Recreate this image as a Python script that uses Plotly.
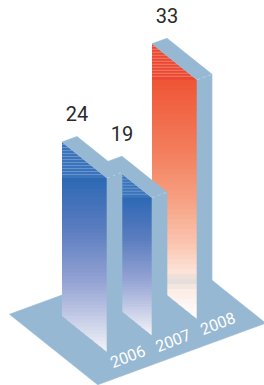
import plotly.graph_objects as go

# ---- data ----
years = ["2006", "2007", "2008"]
values = [24, 19, 33]
palette_names = ["blue", "blue", "red"]

# ---- style ----
W, H = 264, 385
X0, Y0 = 62, 316          # screen position of first bar's back-left-bottom corner
DU = (15.0, -5.5)          # bar width direction
DV = (45.0, 36.0)          # bar depth direction
DH = 7.25                  # pixels per unit of value
STEP = 3                   # bar spacing in width units
SLAB = "#96B8D3"
FLOOR = "#97B8D3"
GRADS = {
    "blue": [(0.0, "#2D68B4"), (0.3, "#5C7DC0"), (0.6, "#95A4D4"),
             (0.78, "#BFC7E4"), (0.88, "#D7DCEC"), (1.0, "#F3F4F8")],
    "red": [(0.0, "#EF5535"), (0.3, "#F37E5D"), (0.5, "#F6A081"),
            (0.7, "#FAC8B4"), (0.8, "#FDE3D8"), (0.84, "#E4DCDA"),
            (0.88, "#FCECE6"), (1.0, "#FFFFFF")],
}
STRIPES = {"blue": ("#3C74BC", "#6794CC"), "red": ("#EB4733", "#F2806C")}
FONT = "Roboto, sans-serif"


def proj(u, v, h):
    return (X0 + u * DU[0] + v * DV[0], Y0 + u * DU[1] + v * DV[1] - h * DH)


def hex2rgb(c):
    c = c.lstrip("#")
    return tuple(int(c[i:i + 2], 16) for i in (0, 2, 4))


def grad_color(stops, t):
    t = min(max(t, 0.0), 1.0)
    for (t0, c0), (t1, c1) in zip(stops[:-1], stops[1:]):
        if t0 <= t <= t1:
            a = (t - t0) / (t1 - t0) if t1 > t0 else 0
            r0, r1 = hex2rgb(c0), hex2rgb(c1)
            return "rgb(%d,%d,%d)" % tuple(round(r0[i] + a * (r1[i] - r0[i])) for i in range(3))
    return stops[-1][1]


def clip(poly, ymin, ymax):
    def half(pts, keep, yv):
        out = []
        for i in range(len(pts)):
            cur, prev = pts[i], pts[i - 1]
            ci, pi = keep(cur), keep(prev)
            if ci != pi:
                t = (yv - prev[1]) / (cur[1] - prev[1])
                out.append((prev[0] + t * (cur[0] - prev[0]), yv))
            if ci:
                out.append(cur)
        return out
    pts = half(poly, lambda p: p[1] >= ymin, ymin)
    if pts:
        pts = half(pts, lambda p: p[1] <= ymax, ymax)
    return pts


fig = go.Figure()


def poly_trace(pts, color, line=None):
    if len(pts) < 3:
        return
    xs = [p[0] for p in pts] + [pts[0][0]]
    ys = [p[1] for p in pts] + [pts[0][1]]
    fig.add_trace(go.Scatter(
        x=xs, y=ys, mode="lines", fill="toself", fillcolor=color,
        line=dict(width=0.6 if line is None else line, color=color),
        hoverinfo="skip", showlegend=False))


# floor
n = len(values)
u_min, u_max = -2.3, STEP * (n - 1) + 2.9
v_min, v_max = -0.4, 1.56
poly_trace([proj(u_min, v_min, 0), proj(u_max, v_min, 0),
            proj(u_max, v_max, 0), proj(u_min, v_max, 0)], FLOOR)

# bars, back to front
for i in reversed(range(n)):
    u0 = i * STEP
    val = values[i]
    pal = palette_names[i]
    face = [proj(u0, 0, 0), proj(u0, 0, val), proj(u0, 1, val), proj(u0, 1, 0)]
    y_top = proj(u0, 0, val)[1]
    y_line = proj(u0, 1, val)[1]
    y_bot = proj(u0, 1, 0)[1]
    # striped triangle at top of side face
    c1, c2 = STRIPES[pal]
    poly_trace(clip(face, y_top - 1, y_line + 1), c1, line=0)
    y = y_top + 2
    while y < y_line - 1:
        poly_trace(clip(face, y, y + 1.1), c2, line=0)
        y += 3
    # gradient part
    nb = 48
    for b in range(nb):
        ya = y_line + (y_bot - y_line) * b / nb
        yb = y_line + (y_bot - y_line) * (b + 1) / nb
        poly_trace(clip(face, ya, yb + 1.2), grad_color(GRADS[pal], (b + 0.5) / nb), line=0)
    # top face
    poly_trace([proj(u0, 0, val), proj(u0 + 1, 0, val),
                proj(u0 + 1, 1, val), proj(u0, 1, val)], SLAB)
    # front face
    poly_trace([proj(u0, 1, 0), proj(u0 + 1, 1, 0),
                proj(u0 + 1, 1, val), proj(u0, 1, val)], SLAB)
    # light edge between top and front
    a, b2 = proj(u0, 1, val), proj(u0 + 1, 1, val)
    fig.add_trace(go.Scatter(x=[a[0], b2[0]], y=[a[1], b2[1]], mode="lines",
                             line=dict(color="#B8CEE1", width=1, dash="dot"),
                             hoverinfo="skip", showlegend=False))

# value labels
lx, ly = zip(*[proj(i * STEP + 1, 0, values[i] + 2.8) for i in range(n)])
fig.add_trace(go.Scatter(x=lx, y=ly, mode="text", text=[str(v) for v in values],
                         textfont=dict(family=FONT, size=20, color="#2A2A2A"),
                         hoverinfo="skip", showlegend=False))

# year labels on the floor
for i in range(n):
    x, y = proj(i * STEP + 0.7, 1.24, 0)
    fig.add_annotation(x=x, y=y, text=years[i], showarrow=False, textangle=-21,
                       font=dict(family=FONT, size=16, color="white"),
                       xanchor="center", yanchor="middle")

fig.update_layout(
    width=W, height=H, margin=dict(l=0, r=0, t=0, b=0),
    paper_bgcolor="white", plot_bgcolor="white",
    xaxis=dict(range=[0, W], visible=False, fixedrange=True),
    yaxis=dict(range=[H, 0], visible=False, fixedrange=True),
)
fig.write_html("out.html", config={"displayModeBar": False},
               post_script="document.body.style.margin='0';document.body.style.overflow='hidden';")
